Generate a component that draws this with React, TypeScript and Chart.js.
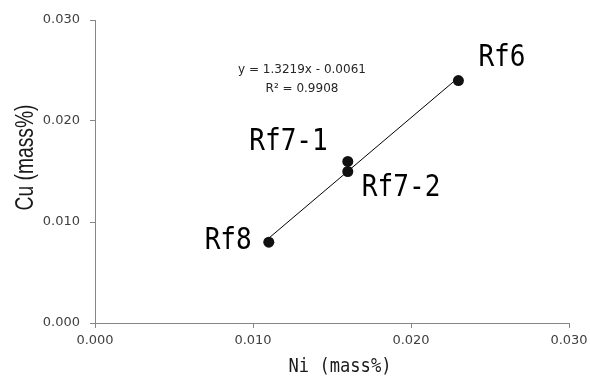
import { useEffect, useRef } from 'react';
import { Chart, registerables } from 'chart.js';

Chart.register(...registerables);

const sampleNames = ['Rf6', 'Rf7-1', 'Rf7-2', 'Rf8'];
const niValues = [0.023, 0.016, 0.016, 0.011];
const cuValues = [0.024, 0.016, 0.015, 0.008];
const trendNi = [0.011, 0.023];
const trendCu = [0.0084, 0.0243];
const tickValues = [0, 0.01, 0.02, 0.03];
const equationLines = ['y = 1.3219x - 0.0061', 'R² = 0.9908'];
const xTitle = 'Ni (mass%)';
const yTitle = 'Cu (mass%)';

const labelPlacement = [
  { dx: 20, dy: -14.6, align: 'left' },
  { dx: -20, dy: -11, align: 'right' },
  { dx: 14, dy: 24.5, align: 'left' },
  { dx: -17, dy: 7, align: 'right' },
];

const annotations = {
  id: 'annotations',
  afterDraw(chart: any) {
    const ctx = chart.ctx as CanvasRenderingContext2D;
    const meta = chart.getDatasetMeta(0);
    ctx.save();
    ctx.fillStyle = '#000';
    ctx.font = '30px "DejaVu Sans Mono"';
    ctx.textBaseline = 'alphabetic';
    meta.data.forEach((el: any, i: number) => {
      const p = labelPlacement[i];
      ctx.save();
      ctx.translate(el.x + p.dx, el.y + p.dy);
      ctx.scale(0.87, 1);
      ctx.textAlign = p.align as CanvasTextAlign;
      ctx.fillText(sampleNames[i], 0, 0);
      ctx.restore();
    });
    ctx.restore();

    ctx.save();
    ctx.fillStyle = '#262626';
    ctx.font = '12px "DejaVu Sans"';
    ctx.textAlign = 'center';
    ctx.textBaseline = 'alphabetic';
    ctx.fillText(equationLines[0], 302, 73);
    ctx.fillText(equationLines[1], 302, 92);
    ctx.restore();

    const area = chart.chartArea;
    ctx.save();
    ctx.fillStyle = '#1a1a1a';
    ctx.font = '19px "DejaVu Sans Mono"';
    ctx.textAlign = 'center';
    ctx.textBaseline = 'alphabetic';
    ctx.translate(340, 372);
    ctx.scale(0.9, 1);
    ctx.fillText(xTitle, 0, 0);
    ctx.restore();

    ctx.save();
    ctx.fillStyle = '#1a1a1a';
    ctx.font = '25px "Liberation Sans"';
    ctx.textAlign = 'center';
    ctx.textBaseline = 'alphabetic';
    ctx.translate(33, (area.top + area.bottom) / 2 - 14);
    ctx.rotate(-Math.PI / 2);
    ctx.scale(0.77, 1);
    ctx.fillText(yTitle, 0, 0);
    ctx.restore();
  },
};

export default function App() {
  const ref = useRef<HTMLCanvasElement | null>(null);
  useEffect(() => {
    if (!ref.current) return;
    const axisColor = '#868686';
    const tickFont = { family: '"DejaVu Sans"', size: 13 };
    const chart = new Chart(ref.current, {
      type: 'scatter',
      data: {
        datasets: [
          {
            label: 'samples',
            data: niValues.map((x, i) => ({ x, y: cuValues[i] })),
            backgroundColor: '#111',
            borderColor: '#111',
            borderWidth: 0,
            pointRadius: 5.5,
          },
          {
            label: 'trend',
            data: trendNi.map((x, i) => ({ x, y: trendCu[i] })),
            showLine: true,
            borderColor: '#000',
            borderWidth: 1,
            pointRadius: 0,
            fill: false,
          },
        ],
      },
      options: {
        responsive: false,
        animation: false,
        layout: { padding: { top: 20, right: 21, left: 0, bottom: 0 } },
        plugins: { legend: { display: false }, tooltip: { enabled: false } },
        scales: {
          x: {
            type: 'linear',
            min: 0,
            max: 0.03,
            afterBuildTicks: (s: any) => {
              s.ticks = tickValues.map((v) => ({ value: v }));
            },
            afterFit: (s: any) => {
              s.height = 57;
              s.paddingRight = 0;
              s.paddingLeft = 0;
            },
            ticks: {
              callback: (v: any) => Number(v).toFixed(3),
              font: tickFont,
              color: '#404040',
              padding: 5,
              maxRotation: 0,
            },
            grid: { drawOnChartArea: false, drawTicks: true, tickLength: 5, color: axisColor },
            border: { color: axisColor, width: 1 },
          },
          y: {
            type: 'linear',
            min: 0,
            max: 0.03,
            afterBuildTicks: (s: any) => {
              s.ticks = tickValues.map((v) => ({ value: v }));
            },
            afterFit: (s: any) => {
              s.width = 95;
              s.paddingTop = 0;
              s.paddingBottom = 0;
            },
            ticks: {
              callback: (v: any) => Number(v).toFixed(3),
              font: tickFont,
              color: '#404040',
              padding: 10,
            },
            grid: { drawOnChartArea: false, drawTicks: true, tickLength: 5, color: axisColor },
            border: { color: axisColor, width: 1 },
          },
        },
      },
      plugins: [annotations],
    });
    return () => chart.destroy();
  }, []);
  return (
    <div style={{ position: 'absolute', left: 0, top: 0, width: 590, height: 380, background: '#fff' }}>
      <canvas ref={ref} width={590} height={380} />
    </div>
  );
}
